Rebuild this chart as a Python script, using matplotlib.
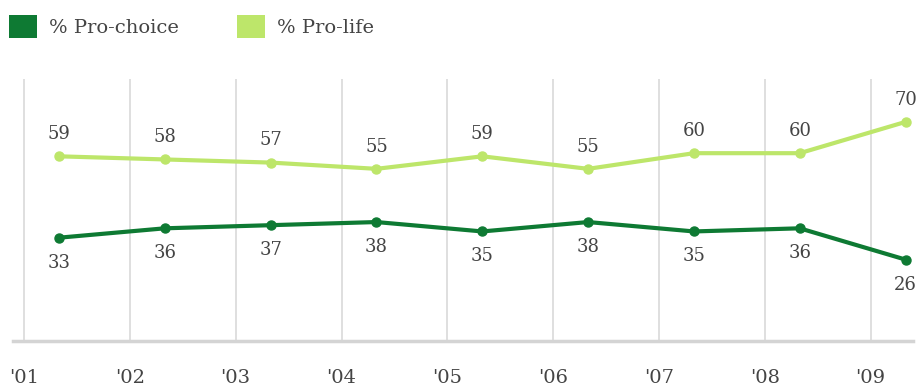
import matplotlib.pyplot as plt
from matplotlib.patches import Patch

years = [2001, 2002, 2003, 2004, 2005, 2006, 2007, 2008, 2009]
tick_labels = ["'01", "'02", "'03", "'04", "'05", "'06", "'07", "'08", "'09"]
pro_choice = [33, 36, 37, 38, 35, 38, 35, 36, 26]
pro_life = [59, 58, 57, 55, 59, 55, 60, 60, 70]

# polls were taken partway into each year
poll_offset = 0.33

DARK = '#0e7a33'
LIGHT = '#bde66a'
TEXT = '#444444'
plt.rcParams['font.family'] = ['DejaVu Serif']


def main():
    fig = plt.figure(figsize=(9.19, 3.9), dpi=100)
    ax = fig.add_axes([13 / 919, 49 / 390, 900 / 919, 262 / 390])

    xs = [y + poll_offset for y in years]
    ax.plot(xs, pro_life, color=LIGHT, lw=3, marker='o', ms=6.5, solid_capstyle='round')
    ax.plot(xs, pro_choice, color=DARK, lw=3, marker='o', ms=6.5, solid_capstyle='round')

    for x, v in zip(xs, pro_life):
        ax.annotate(str(v), (x, v), xytext=(0, 16), textcoords='offset points',
                    ha='center', va='center', fontsize=13, color=TEXT)
    for x, v in zip(xs, pro_choice):
        ax.annotate(str(v), (x, v), xytext=(0, -18), textcoords='offset points',
                    ha='center', va='center', fontsize=13, color=TEXT)

    ax.set_xlim(years[0] - 0.104, years[-1] + 0.40)
    ax.set_ylim(0, 83.7)
    ax.set_xticks(years)
    ax.set_xticklabels(tick_labels, fontsize=14, color=TEXT)
    ax.set_yticks([])
    ax.tick_params(axis='x', length=0, pad=20)
    ax.grid(axis='x', color='#d9d9d9', lw=1.2)
    ax.set_axisbelow(True)
    for side in ['top', 'left', 'right']:
        ax.spines[side].set_visible(False)
    ax.spines['bottom'].set_color('#d4d4d4')
    ax.spines['bottom'].set_linewidth(2.5)

    handles = [Patch(facecolor=DARK, edgecolor='none', label='% Pro-choice'),
               Patch(facecolor=LIGHT, edgecolor='none', label='% Pro-life')]
    fig.legend(handles=handles, loc='upper left', bbox_to_anchor=(0.0, 0.985), ncol=2,
               frameon=False, fontsize=14, handlelength=1.45, handleheight=1.45,
               handletextpad=0.6, columnspacing=3.0, borderpad=0.3,
               borderaxespad=0.15, labelcolor=TEXT)

    fig.savefig('out.png', dpi=100)
    plt.close(fig)


if __name__ == '__main__':
    main()
